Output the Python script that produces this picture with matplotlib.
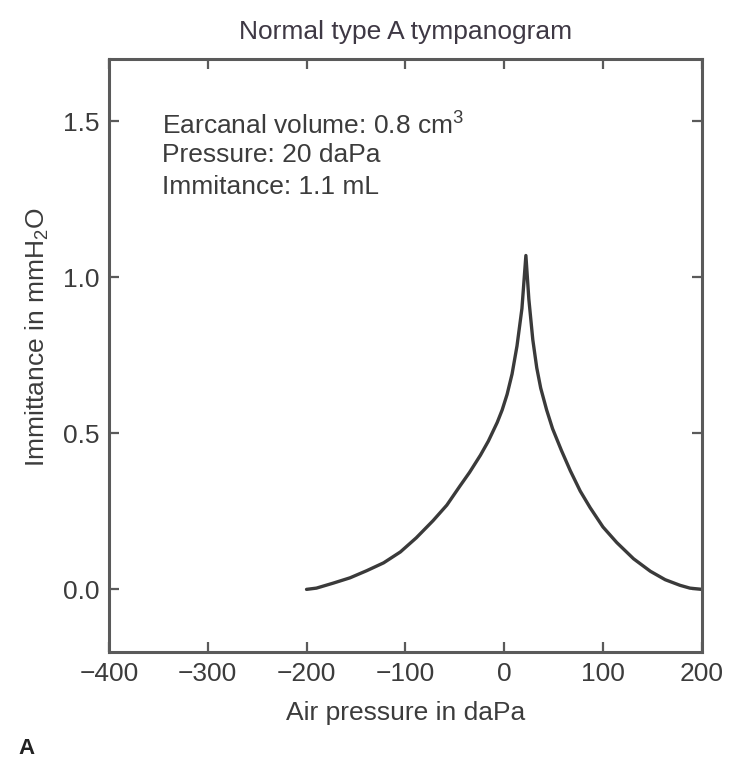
"""Normal type A tympanogram, recreated with matplotlib.

Output: out.png
"""

import matplotlib

matplotlib.use("Agg")
import matplotlib.pyplot as plt

# Values.
pressure_dapa = [-200, -190, -173, -156, -139, -122, -105, -89, -72, -58, -45, -35, -24,
                 -16, -7, -2, 3, 8, 13, 18, 22,
                 25, 29, 33, 37, 43, 49, 58, 67, 77, 87, 100, 114, 131, 148, 163,
                 178, 188, 200]
immittance = [0.0, 0.004, 0.02, 0.037, 0.06, 0.085, 0.12, 0.165, 0.22, 0.27, 0.33, 0.375, 0.43,
              0.475, 0.535, 0.575, 0.625, 0.69, 0.78, 0.90, 1.07,
              0.93, 0.80, 0.71, 0.645, 0.575, 0.515, 0.445, 0.38, 0.315, 0.262, 0.20, 0.15, 0.098,
              0.058, 0.031, 0.013, 0.004, 0.0]

x_ticks = [-400, -300, -200, -100, 0, 100, 200]
y_ticks = [0.0, 0.5, 1.0, 1.5]
info_lines = [
    "Earcanal volume: 0.8 cm$^3$",
    "Pressure: 20 daPa",
    "Immitance: 1.1 mL",
]

TEXT = "#3c3c3c"
EDGE = "#5a5a5a"
FS = 19


def main():
    plt.rcParams["font.family"] = ["Liberation Sans", "DejaVu Sans"]
    plt.rcParams["mathtext.fontset"] = "custom"
    plt.rcParams["mathtext.rm"] = "Liberation Sans"

    fig = plt.figure(figsize=(7.31, 7.65), dpi=100)
    ax = fig.add_axes([0.149, 0.148, 0.811, 0.775])

    ax.plot(pressure_dapa, immittance, color="#3a3a3a", lw=2.4,
            solid_capstyle="round", solid_joinstyle="round")

    ax.set_xlim(-400, 200)
    ax.set_ylim(-0.2, 1.7)
    ax.set_xticks(x_ticks)
    ax.set_xticklabels(["\u2212400", "\u2212300", "\u2212200", "\u2212100", "0", "100", "200"])
    ax.set_yticks(y_ticks)
    ax.set_yticklabels([f"{v:.1f}" for v in y_ticks])

    ax.tick_params(direction="in", top=True, right=True, length=7, width=1.6,
                   color=EDGE, labelsize=FS, labelcolor=TEXT, pad=7)
    for sp in ax.spines.values():
        sp.set_color(EDGE)
        sp.set_linewidth(2.2)

    ax.set_title("Normal type A tympanogram", fontsize=FS, color="#3e3844", pad=14)
    ax.set_xlabel("Air pressure in daPa", fontsize=FS, color=TEXT, labelpad=11)
    ax.set_ylabel("Immittance in mmH$_2$O", fontsize=FS, color=TEXT)
    ax.yaxis.set_label_coords(-0.098, 0.53)

    for i, line in enumerate(info_lines):
        ax.text(0.09, 0.913 - i * 0.054, line, transform=ax.transAxes,
                fontsize=FS, color=TEXT, va="top", ha="left")

    fig.text(0.025, 0.015, "A", fontsize=16, fontweight="bold", color="#222222")

    fig.savefig("out.png", dpi=100)


if __name__ == "__main__":
    main()
